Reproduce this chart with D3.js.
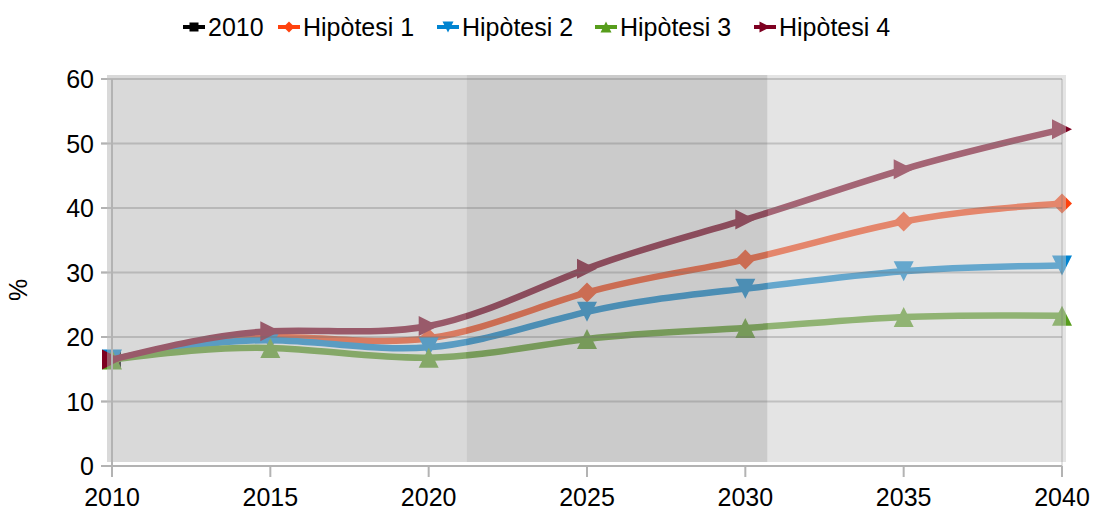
<!DOCTYPE html>
<html><head><meta charset="utf-8">
<script src="https://cdn.jsdelivr.net/npm/d3@7"></script>
<style>body{margin:0;background:#fff}svg{display:block;font-family:"Liberation Sans",Arial,sans-serif}</style>
</head><body><svg id="c" width="1093" height="512"></svg>
<script>
const years = [2010, 2015, 2020, 2025, 2030, 2035, 2040];
const seriesNames = ["2010", "Hipòtesi 1", "Hipòtesi 2", "Hipòtesi 3", "Hipòtesi 4"];
const base2010 = [16.5];
const hip1 = [16.5, 20.0, 19.8, 26.9, 32.0, 37.9, 40.7];
const hip2 = [16.5, 19.5, 18.4, 23.9, 27.5, 30.2, 31.1];
const hip3 = [16.5, 18.3, 16.8, 19.7, 21.4, 23.1, 23.3];
const hip4 = [16.5, 20.9, 21.7, 30.6, 38.2, 46.0, 52.2];
const yTicks = [0, 10, 20, 30, 40, 50, 60];
const xTicks = [2010, 2015, 2020, 2025, 2030, 2035, 2040];
const bands = [[2010, 2021.2], [2021.2, 2030.7], [2030.7, 2040]];
const colors = ["#000000", "#ff420e", "#0084d1", "#579d1c", "#7e0021"];
const symbols = ["square", "diamond", "down", "up", "right"];

const svg = d3.select("#c");
const x = d3.scaleLinear().domain([2010, 2040]).range([112, 1062]);
const y = d3.scaleLinear().domain([0, 60]).range([466, 79]);

function marker(g, type, cx, cy, s, color) {
  let p;
  const h = s / 2;
  if (type === "square") p = `M${cx-h},${cy-h}h${s}v${s}h${-s}Z`;
  if (type === "diamond") p = `M${cx},${cy-h}L${cx+h},${cy}L${cx},${cy+h}L${cx-h},${cy}Z`;
  if (type === "down") p = `M${cx-h},${cy-h}L${cx+h},${cy-h}L${cx},${cy+h}Z`;
  if (type === "up") p = `M${cx-h},${cy+h}L${cx+h},${cy+h}L${cx},${cy-h}Z`;
  if (type === "right") p = `M${cx-h},${cy-h}L${cx+h},${cy}L${cx-h},${cy+h}Z`;
  g.append("path").attr("d", p).attr("fill", color);
}

// series lines and markers (drawn beneath the translucent wall)
const all = [base2010, hip1, hip2, hip3, hip4];
const line = d3.line().x((d, i) => x(years[i])).y(d => y(d)).curve(d3.curveNatural);
const sg = svg.append("g");
all.forEach((vals, si) => {
  if (vals.length > 1) {
    sg.append("path").attr("d", line(vals)).attr("fill", "none")
      .attr("stroke", colors[si]).attr("stroke-width", 6.5).attr("stroke-linejoin", "round");
  }
  vals.forEach((v, i) => marker(sg, symbols[si], x(years[i]), y(v), si === 0 ? 18 : 20, colors[si]));
});

// translucent wall with bands
const wallL = 107, wallR = 1066, wallT = 75, wallB = 462;
const bandFill = ["rgb(179,179,179)", "rgb(151,151,151)", "rgb(201,201,201)"];
bands.forEach((b, i) => {
  const x0 = i === 0 ? wallL : x(b[0]);
  const x1 = i === bands.length - 1 ? wallR : x(b[1]);
  svg.append("rect").attr("x", x0).attr("y", wallT).attr("width", x1 - x0).attr("height", wallB - wallT)
    .attr("fill", bandFill[i]).attr("fill-opacity", 0.5);
});

// gridlines
const grid = svg.append("g");
yTicks.forEach(t => {
  if (t === 0) return;
  grid.append("line").attr("x1", 101).attr("x2", x(2040)).attr("y1", y(t)).attr("y2", y(t))
    .attr("stroke", "rgba(110,110,110,0.3)").attr("stroke-width", 2);
});
yTicks.forEach(t => {
  svg.append("line").attr("x1", 101).attr("x2", wallL).attr("y1", y(t)).attr("y2", y(t))
    .attr("stroke", "#b3b3b3").attr("stroke-width", 2);
});
svg.append("line").attr("x1", x(2010)).attr("x2", x(2010)).attr("y1", y(60)).attr("y2", y(0))
  .attr("stroke", "#b3b3b3").attr("stroke-width", 2);
svg.append("line").attr("x1", x(2040)).attr("x2", x(2040)).attr("y1", y(60)).attr("y2", y(0))
  .attr("stroke", "rgba(110,110,110,0.2)").attr("stroke-width", 2);
svg.append("line").attr("x1", 101).attr("x2", x(2040)).attr("y1", y(0)).attr("y2", y(0))
  .attr("stroke", "#b3b3b3").attr("stroke-width", 2);
xTicks.forEach(t => {
  svg.append("line").attr("x1", x(t)).attr("x2", x(t)).attr("y1", y(0)).attr("y2", y(0) + 11)
    .attr("stroke", "#b3b3b3").attr("stroke-width", 2);
});

// labels
const fs = 25;
yTicks.forEach(t => {
  svg.append("text").attr("x", 94).attr("y", y(t) + 9).attr("text-anchor", "end")
    .attr("font-size", fs).attr("fill", "#000").text(t);
});
xTicks.forEach(t => {
  svg.append("text").attr("x", x(t)).attr("y", 506).attr("text-anchor", "middle")
    .attr("font-size", fs).attr("fill", "#000").text(t);
});
svg.append("text").attr("transform", "translate(27,290) rotate(-90)").attr("text-anchor", "middle")
  .attr("font-size", fs).attr("fill", "#000").text("%");

// legend
const legX = [194, 289, 448, 606, 765];
const lg = svg.append("g");
seriesNames.forEach((n, i) => {
  const cx = legX[i], cy = 27;
  lg.append("line").attr("x1", cx - 11).attr("x2", cx + 11).attr("y1", cy).attr("y2", cy)
    .attr("stroke", colors[i]).attr("stroke-width", 4);
  marker(lg, symbols[i], cx, cy, i === 0 ? 9 : 11, colors[i]);
  lg.append("text").attr("x", cx + 14).attr("y", cy + 9).attr("font-size", fs).attr("fill", "#000").text(n);
});
</script></body></html>
